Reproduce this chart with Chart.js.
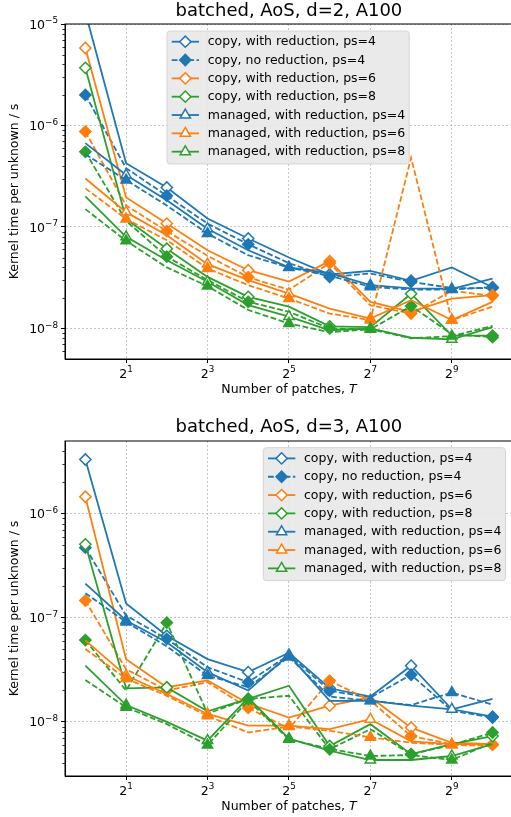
<!DOCTYPE html>
<html>
<head>
<meta charset="utf-8">
<script src="https://cdn.jsdelivr.net/npm/chart.js@4.4.1/dist/chart.umd.min.js"></script>
<style>
html, body { margin:0; padding:0; background:#fff; overflow:hidden; width:511px; height:817px; }
canvas { position:absolute; left:0; }
#c1 { top:0; }
#c2 { top:417px; }
</style>
</head>
<body>
<canvas id="c1" width="520" height="400"></canvas>
<canvas id="c2" width="520" height="400"></canvas>
<script>
var patches = [1, 2, 4, 8, 16, 32, 64, 128, 256, 512, 1024];
var xTicks = [2, 8, 32, 128, 512];

// d=2 panel
var d2_copyRed4 = [1.3e-5, 4.25e-7, 2.45e-7, 1.21e-7, 7.7e-8, 5.0e-8, 3.4e-8, 3.7e-8, 2.95e-8, 4.0e-8, 2.55e-8];
var d2_copyNo4  = [2.0e-6, 3.8e-7, 2.03e-7, 1.08e-7, 6.75e-8, 4.4e-8, 3.22e-8, 3.48e-8, 2.88e-8, 2.5e-8, 2.5e-8];
var d2_copyRed6 = [5.8e-6, 1.95e-7, 1.08e-7, 5.9e-8, 3.75e-8, 2.9e-8, 4.6e-8, 1.83e-8, 1.46e-8, 1.97e-8, 2.13e-8];
var d2_copyNo6  = [8.7e-7, 1.63e-7, 9.1e-8, 5.2e-8, 3.2e-8, 2.4e-8, 4.4e-8, 1.69e-8, 1.4e-8, 2.35e-8, 2.1e-8];
var d2_copyRed8 = [3.7e-6, 1.2e-7, 6.1e-8, 3.22e-8, 2.05e-8, 1.64e-8, 1.05e-8, 1.03e-8, 2.2e-8, 8.5e-9, 8.5e-9];
var d2_copyNo8  = [5.5e-7, 1.15e-7, 5.1e-8, 3.0e-8, 1.83e-8, 1.46e-8, 1.0e-8, 9.8e-9, 1.66e-8, 8.8e-9, 8.2e-9];
var d2_manRed4  = [6.7e-7, 3.25e-7, 1.83e-7, 9.6e-8, 5.9e-8, 4.0e-8, 3.5e-8, 2.67e-8, 2.48e-8, 2.45e-8, 3.1e-8];
var d2_manNo4   = [5.2e-7, 2.9e-7, 1.63e-7, 8.6e-8, 5.26e-8, 3.98e-8, 3.3e-8, 2.57e-8, 2.42e-8, 2.42e-8, 2.55e-8];
var d2_manRed6  = [3.0e-7, 1.4e-7, 8.3e-8, 4.3e-8, 3.0e-8, 2.2e-8, 1.57e-8, 1.25e-8, 1.9e-8, 1.21e-8, 1.83e-8];
var d2_manNo6   = [2.4e-7, 1.2e-7, 7.4e-8, 3.9e-8, 2.67e-8, 1.97e-8, 1.4e-8, 1.21e-8, 4.8e-7, 1.21e-8, 1.64e-8];
var d2_manRed8  = [2.0e-7, 8.0e-8, 4.7e-8, 2.88e-8, 1.7e-8, 1.31e-8, 9.6e-9, 1.0e-8, 8.1e-9, 7.8e-9, 1.03e-8];
var d2_manNo8   = [1.5e-7, 7.3e-8, 4.0e-8, 2.61e-8, 1.52e-8, 1.12e-8, 9.2e-9, 9.8e-9, 8.0e-9, 8.4e-9, 1.06e-8];

// d=3 panel
var d3_copyRed4 = [3.3e-6, 1.37e-7, 6.7e-8, 4.0e-8, 3.0e-8, 4.6e-8, 2.1e-8, 1.75e-8, 3.46e-8, 1.32e-8, 1.12e-8];
var d3_copyNo4  = [4.7e-7, 1.05e-7, 6.26e-8, 3.34e-8, 2.4e-8, 4.4e-8, 1.99e-8, 1.71e-8, 2.83e-8, 1.28e-8, 1.1e-8];
var d3_copyRed6 = [1.45e-6, 4.0e-8, 2.15e-8, 2.5e-8, 1.5e-8, 1.1e-8, 1.43e-8, 1.72e-8, 8.8e-9, 6.3e-9, 6.1e-9];
var d3_copyNo6  = [1.46e-7, 3.2e-8, 2.0e-8, 2.4e-8, 1.36e-8, 8.6e-9, 2.48e-8, 1.6e-8, 7.3e-9, 6.1e-9, 6.0e-9];
var d3_copyRed8 = [5.06e-7, 2.1e-8, 2.14e-8, 1.26e-8, 1.66e-8, 2.22e-8, 5.86e-9, 9.5e-9, 4.9e-9, 6.1e-9, 7.3e-9];
var d3_copyNo8  = [6.1e-8, 2.0e-8, 8.95e-8, 1.2e-8, 1.66e-8, 1.78e-8, 5.45e-9, 8.5e-9, 4.88e-9, 6.0e-9, 7.9e-9];
var d3_manRed4  = [2.12e-7, 9.4e-8, 5.8e-8, 3.0e-8, 2.0e-8, 4.4e-8, 1.59e-8, 1.6e-8, 1.43e-8, 1.32e-8, 1.66e-8];
var d3_manNo4   = [1.72e-7, 9.1e-8, 5.3e-8, 2.78e-8, 2.15e-8, 4.2e-8, 1.75e-8, 1.59e-8, 1.45e-8, 1.91e-8, 1.46e-8];
var d3_manRed6  = [6.05e-8, 2.78e-8, 1.85e-8, 1.19e-8, 9.2e-9, 9.2e-9, 8.5e-9, 1.06e-8, 6.5e-9, 6.1e-9, 6.1e-9];
var d3_manNo6   = [5.0e-8, 2.6e-8, 1.78e-8, 1.14e-8, 7.9e-9, 9.0e-9, 8.2e-9, 7.1e-9, 6.3e-9, 6.0e-9, 5.9e-9];
var d3_manRed8  = [3.47e-8, 1.45e-8, 1.0e-8, 6.6e-9, 1.7e-8, 6.9e-9, 5.3e-9, 4.3e-9, 4.3e-9, 4.7e-9, 6.1e-9];
var d3_manNo8   = [2.52e-8, 1.38e-8, 9.5e-9, 6.0e-9, 1.6e-8, 6.8e-9, 5.5e-9, 4.7e-9, 4.8e-9, 4.3e-9, 6.3e-9];

var BLUE = '#1f77b4', ORANGE = '#ff7f0e', GREEN = '#2ca02c';
var FONT = "'DejaVu Sans', sans-serif";
var LW = 1.8;
var DASH = [5.8, 2.5];

// copy runs mark even points with diamonds, managed runs mark odd points with triangles
function series(vals, color, copy, red) {
  var first = copy ? 0 : 1;
  return {
    data: vals.map(function (v, i) { return { x: patches[i], y: v }; }),
    borderColor: color,
    borderWidth: LW,
    borderDash: red ? [] : DASH,
    pointStyle: copy ? 'rectRot' : 'triangle',
    pointRadius: function (c) { return c.dataIndex % 2 === first ? (copy ? 5.6 : 5.9) : 0; },
    pointBorderWidth: 1.5,
    pointBorderColor: color,
    pointBackgroundColor: red ? '#ffffff' : color,
    fill: false,
    tension: 0
  };
}

function drawMarker(ctx, kind, x, y, r) {
  ctx.beginPath();
  if (kind === 'diamond') {
    ctx.moveTo(x - r, y); ctx.lineTo(x, y - r); ctx.lineTo(x + r, y); ctx.lineTo(x, y + r);
  } else {
    ctx.moveTo(x, y - r); ctx.lineTo(x + 0.866 * r, y + 0.5 * r); ctx.lineTo(x - 0.866 * r, y + 0.5 * r);
  }
  ctx.closePath();
}

// base with a raised exponent, like "10^-7"
function powerLabel(ctx, base, exp, x, baseline, align) {
  ctx.font = '12.5px ' + FONT;
  var wb = ctx.measureText(base).width;
  ctx.font = '8.8px ' + FONT;
  var we = ctx.measureText(exp).width;
  var x0 = align === 'right' ? x - wb - we : x - (wb + we) / 2;
  ctx.textAlign = 'left';
  ctx.textBaseline = 'alphabetic';
  ctx.font = '12.5px ' + FONT;
  ctx.fillText(base, x0, baseline);
  ctx.font = '8.8px ' + FONT;
  ctx.fillText(exp, x0 + wb, baseline - 5.2);
}

var legendItems = [
  { label: 'copy, with reduction, ps=4', color: BLUE, dashed: false, marker: 'diamond', filled: false },
  { label: 'copy, no reduction, ps=4', color: BLUE, dashed: true, marker: 'diamond', filled: true },
  { label: 'copy, with reduction, ps=6', color: ORANGE, dashed: false, marker: 'diamond', filled: false },
  { label: 'copy, with reduction, ps=8', color: GREEN, dashed: false, marker: 'diamond', filled: false },
  { label: 'managed, with reduction, ps=4', color: BLUE, dashed: false, marker: 'triangle', filled: false },
  { label: 'managed, with reduction, ps=6', color: ORANGE, dashed: false, marker: 'triangle', filled: false },
  { label: 'managed, with reduction, ps=8', color: GREEN, dashed: false, marker: 'triangle', filled: false }
];

var framePlugin = {
  id: 'frame',
  afterDatasetsDraw: function (chart) {
    var a = chart.chartArea, ctx = chart.ctx;
    var ys = chart.scales.y;
    ctx.save();
    ctx.strokeStyle = '#000';
    ctx.lineWidth = 1;
    ctx.strokeRect(a.left, a.top, a.right - a.left, a.bottom - a.top);
    // minor log ticks on the y axis
    ctx.lineWidth = 0.8;
    for (var e = -10; e <= -4; e++) {
      for (var m = 2; m <= 9; m++) {
        var v = m * Math.pow(10, e);
        if (v <= ys.min || v >= ys.max) continue;
        var py = Math.round(ys.getPixelForValue(v)) + 0.5;
        ctx.beginPath();
        ctx.moveTo(a.left - 2.6, py);
        ctx.lineTo(a.left, py);
        ctx.stroke();
      }
    }
    ctx.restore();
  }
};

var boxLegend = {
  id: 'boxLegend',
  afterDatasetsDraw: function (chart, args, opts) {
    var ctx = chart.ctx;
    ctx.save();
    ctx.font = '12.5px ' + FONT;
    var maxW = 0;
    legendItems.forEach(function (it) { maxW = Math.max(maxW, ctx.measureText(it.label).width); });
    var rowH = 18.33;
    var w = 40.7 + maxW + 4, h = 10.7 + rowH * (legendItems.length - 1) + 12.3;
    var x = opts.x, y = opts.y, rr = 3;
    ctx.beginPath();
    ctx.moveTo(x + rr, y);
    ctx.arcTo(x + w, y, x + w, y + h, rr);
    ctx.arcTo(x + w, y + h, x, y + h, rr);
    ctx.arcTo(x, y + h, x, y, rr);
    ctx.arcTo(x, y, x + w, y, rr);
    ctx.closePath();
    ctx.fillStyle = 'rgba(232,232,232,0.92)';
    ctx.fill();
    ctx.strokeStyle = '#d4d4d4';
    ctx.lineWidth = 1;
    ctx.stroke();
    legendItems.forEach(function (it, i) {
      var cy = y + 10.7 + i * rowH;
      ctx.strokeStyle = it.color;
      ctx.lineWidth = LW;
      ctx.setLineDash(it.dashed ? DASH : []);
      ctx.beginPath();
      ctx.moveTo(x + 4.7, cy);
      ctx.lineTo(x + 32, cy);
      ctx.stroke();
      ctx.setLineDash([]);
      ctx.lineWidth = 1.5;
      drawMarker(ctx, it.marker, x + 18.3, cy, it.marker === 'diamond' ? 5.6 : 5.9);
      ctx.fillStyle = it.filled ? it.color : '#ffffff';
      ctx.fill();
      ctx.stroke();
      ctx.fillStyle = '#000';
      ctx.textAlign = 'left';
      ctx.textBaseline = 'middle';
      ctx.fillText(it.label, x + 40.7, cy + 0.5);
    });
    ctx.restore();
  }
};

var textPlugin = {
  id: 'texts',
  afterDraw: function (chart, args, opts) {
    var a = chart.chartArea, ctx = chart.ctx;
    var cx = (a.left + a.right) / 2;
    ctx.save();
    ctx.fillStyle = '#000';
    // tick labels
    chart.scales.y.ticks.forEach(function (t) {
      var py = chart.scales.y.getPixelForValue(t.value);
      powerLabel(ctx, '10', '\u2212' + Math.round(-Math.log10(t.value)), a.left - 7, py + 4.6, 'right');
    });
    chart.scales.x.ticks.forEach(function (t) {
      var px = chart.scales.x.getPixelForValue(t.value);
      powerLabel(ctx, '2', String(Math.round(Math.log2(t.value))), px, a.bottom + 18.5, 'center');
    });
    ctx.textBaseline = 'middle';
    ctx.textAlign = 'center';
    ctx.font = '18px ' + FONT;
    ctx.fillText(opts.title, cx, opts.titleY);
    // x label with italic T
    ctx.font = '12.5px ' + FONT;
    var p1 = 'Number of patches, ';
    var w1 = ctx.measureText(p1).width;
    ctx.font = 'italic 12.5px ' + FONT;
    var w2 = ctx.measureText('T').width;
    var sx = cx - (w1 + w2) / 2;
    ctx.textAlign = 'left';
    ctx.font = '12.5px ' + FONT;
    ctx.fillText(p1, sx, 390);
    ctx.font = 'italic 12.5px ' + FONT;
    ctx.fillText('T', sx + w1, 390);
    // y label
    ctx.font = '12.5px ' + FONT;
    ctx.textAlign = 'center';
    ctx.translate(14.5, (a.top + a.bottom) / 2);
    ctx.rotate(-Math.PI / 2);
    ctx.fillText('Kernel time per unknown / s', 0, 0);
    ctx.restore();
  }
};

function panel(canvasId, title, titleY, yMin, yMax, yMajors, s, legX, legY) {
  var sets = [
    series(s.copyRed4, BLUE, true, true),
    series(s.copyNo4, BLUE, true, false),
    series(s.copyRed6, ORANGE, true, true),
    series(s.copyNo6, ORANGE, true, false),
    series(s.copyRed8, GREEN, true, true),
    series(s.copyNo8, GREEN, true, false),
    series(s.manRed4, BLUE, false, true),
    series(s.manNo4, BLUE, false, false),
    series(s.manRed6, ORANGE, false, true),
    series(s.manNo6, ORANGE, false, false),
    series(s.manRed8, GREEN, false, true),
    series(s.manNo8, GREEN, false, false)
  ];
  sets.forEach(function (d, i) { d.order = sets.length - i; });

  new Chart(document.getElementById(canvasId), {
    type: 'line',
    data: { datasets: sets },
    plugins: [framePlugin, boxLegend, textPlugin],
    options: {
      responsive: false,
      animation: false,
      events: [],
      layout: { padding: { left: 0, right: 6.7, top: 24, bottom: 0 } },
      plugins: {
        legend: { display: false },
        tooltip: { enabled: false },
        boxLegend: { x: legX, y: legY },
        texts: { title: title, titleY: titleY }
      },
      scales: {
        x: {
          type: 'logarithmic',
          bounds: 'data',
          min: Math.pow(2, -0.5),
          max: Math.pow(2, 10.5),
          afterBuildTicks: function (sc) { sc.ticks = xTicks.map(function (v) { return { value: v }; }); },
          afterFit: function (sc) { sc.height = 41; },
          ticks: { display: false, autoSkip: false, maxRotation: 0 },
          grid: { color: '#b8b8b8', lineWidth: 0.8, tickLength: 4, tickColor: '#000', tickWidth: 1, tickBorderDash: [] },
          border: { display: true, color: '#000', width: 1, dash: [2, 2] }
        },
        y: {
          type: 'logarithmic',
          bounds: 'data',
          min: yMin,
          max: yMax,
          afterBuildTicks: function (sc) { sc.ticks = yMajors.map(function (v) { return { value: v }; }); },
          afterFit: function (sc) { sc.width = 65; },
          ticks: { display: false, autoSkip: false },
          grid: { color: '#b8b8b8', lineWidth: 0.8, tickLength: 4, tickColor: '#000', tickWidth: 1, tickBorderDash: [] },
          border: { display: true, color: '#000', width: 1, dash: [2, 2] }
        }
      }
    }
  });
}

panel('c1', 'batched, AoS, d=2, A100', 11.5, 5e-9, 1e-5, [1e-8, 1e-7, 1e-6, 1e-5], {
  copyRed4: d2_copyRed4, copyNo4: d2_copyNo4, copyRed6: d2_copyRed6, copyNo6: d2_copyNo6,
  copyRed8: d2_copyRed8, copyNo8: d2_copyNo8, manRed4: d2_manRed4, manNo4: d2_manNo4,
  manRed6: d2_manRed6, manNo6: d2_manNo6, manRed8: d2_manRed8, manNo8: d2_manNo8
}, 167, 31);

panel('c2', 'batched, AoS, d=3, A100', 10, 3.02e-9, 4.97e-6, [1e-8, 1e-7, 1e-6], {
  copyRed4: d3_copyRed4, copyNo4: d3_copyNo4, copyRed6: d3_copyRed6, copyNo6: d3_copyNo6,
  copyRed8: d3_copyRed8, copyNo8: d3_copyNo8, manRed4: d3_manRed4, manNo4: d3_manNo4,
  manRed6: d3_manRed6, manNo6: d3_manNo6, manRed8: d3_manRed8, manNo8: d3_manNo8
}, 263.3, 30.7);
</script>
</body>
</html>
